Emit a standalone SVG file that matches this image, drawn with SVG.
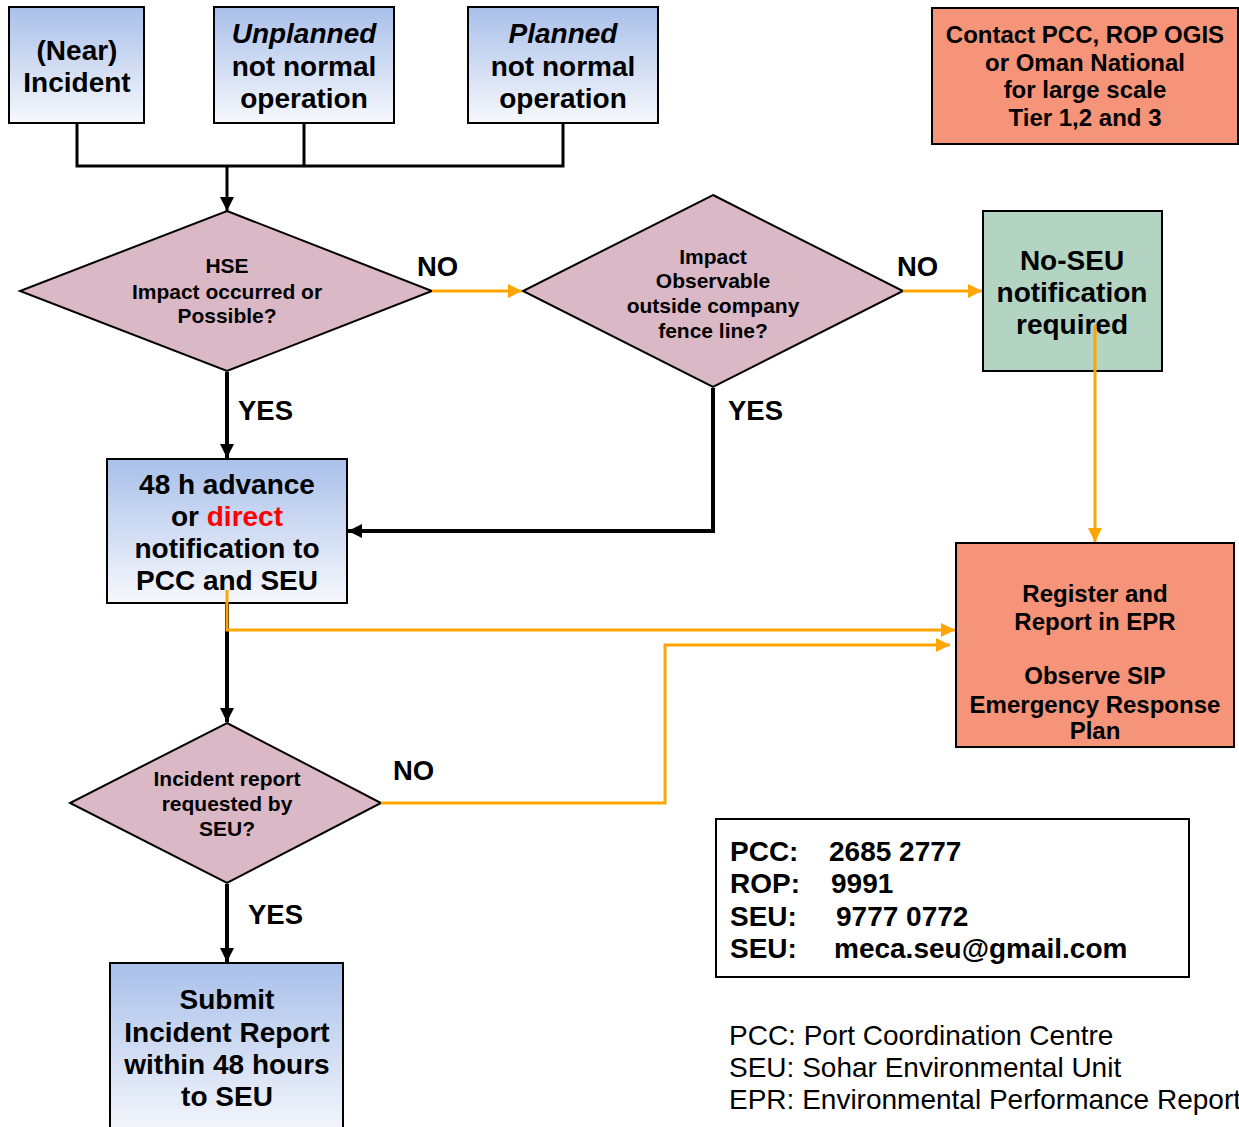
<svg xmlns="http://www.w3.org/2000/svg" width="1239" height="1127" viewBox="0 0 1239 1127">
<defs>
<linearGradient id="blueGrad" x1="0" y1="0" x2="0" y2="1">
<stop offset="0" stop-color="#a9c0ea"/>
<stop offset="1" stop-color="#f7f8fc"/>
</linearGradient>
<marker id="arrBlack" markerUnits="userSpaceOnUse" markerWidth="16" markerHeight="16" refX="14" refY="8" orient="auto">
<path d="M0,1 L14,8 L0,15 Z" fill="#000"/>
</marker>
<marker id="arrOrange" markerUnits="userSpaceOnUse" markerWidth="16" markerHeight="16" refX="14" refY="8" orient="auto">
<path d="M0,1 L14,8 L0,15 Z" fill="#ffa500"/>
</marker>
</defs>
<style>
text{font-family:"Liberation Sans",Arial,sans-serif;font-weight:bold;fill:#000}
.c{text-anchor:middle}
.bluebox{fill:url(#blueGrad);stroke:#000;stroke-width:2}
.diamond{fill:#dbb8c6;stroke:#000;stroke-width:2}
.salmon{fill:#f59478;stroke:#000;stroke-width:2}
.green{fill:#b3d4c2;stroke:#000;stroke-width:2}
.t28{font-size:28px}
.lbl{font-size:27.5px}
.t24{font-size:24px}
.t21{font-size:21px}
.blk{fill:none;stroke:#000;stroke-width:3}
.blk4{fill:none;stroke:#000;stroke-width:4}
.org{fill:none;stroke:#ffa500;stroke-width:3}
.norm{font-weight:normal}
</style>

<g id="near-incident">
<rect class="bluebox" x="9" y="7" width="135" height="116"/>
<text class="t28 c" x="77" y="60">(Near)</text>
<text class="t28 c" x="77" y="92">Incident</text>
</g>

<g id="unplanned">
<rect class="bluebox" x="214" y="7" width="180" height="116"/>
<text class="t28 c" x="304" y="43" font-style="italic">Unplanned</text>
<text class="t28 c" x="304" y="76">not normal</text>
<text class="t28 c" x="304" y="108">operation</text>
</g>

<g id="planned">
<rect class="bluebox" x="468" y="7" width="190" height="116"/>
<text class="t28 c" x="563" y="43" font-style="italic">Planned</text>
<text class="t28 c" x="563" y="76">not normal</text>
<text class="t28 c" x="563" y="108">operation</text>
</g>

<g id="contact">
<rect class="salmon" x="932" y="8" width="306" height="136"/>
<text class="t24 c" x="1085" y="43">Contact PCC, ROP OGIS</text>
<text class="t24 c" x="1085" y="71">or Oman National</text>
<text class="t24 c" x="1085" y="98">for large scale</text>
<text class="t24 c" x="1085" y="126">Tier 1,2 and 3</text>
</g>

<g id="hse-decision">
<polygon class="diamond" points="227,211 432,291 227,371 20,291"/>
<text class="t21 c" x="227" y="273">HSE</text>
<text class="t21 c" x="227" y="299">Impact occurred or</text>
<text class="t21 c" x="227" y="323">Possible?</text>
</g>

<g id="observable-decision">
<polygon class="diamond" points="713,195 903,291 713,387 523,291"/>
<text class="t21 c" x="713" y="264">Impact</text>
<text class="t21 c" x="713" y="288">Observable</text>
<text class="t21 c" x="713" y="313">outside company</text>
<text class="t21 c" x="713" y="338">fence line?</text>
</g>

<g id="no-seu">
<rect class="green" x="983" y="211" width="179" height="160"/>
<text class="t28 c" x="1072" y="270">No-SEU</text>
<text class="t28 c" x="1072" y="302">notification</text>
<text class="t28 c" x="1072" y="334">required</text>
</g>

<g id="notification">
<rect class="bluebox" x="107" y="459" width="240" height="144"/>
<text class="t28 c" x="227" y="494">48 h advance</text>
<text class="t28 c" x="227" y="526">or <tspan fill="#ff0000">direct</tspan></text>
<text class="t28 c" x="227" y="558">notification to</text>
<text class="t28 c" x="227" y="590">PCC and SEU</text>
</g>

<g id="register">
<rect class="salmon" x="956" y="543" width="278" height="204"/>
<text class="t24 c" x="1095" y="602">Register and</text>
<text class="t24 c" x="1095" y="630">Report in EPR</text>
<text class="t24 c" x="1095" y="684">Observe SIP</text>
<text class="t24 c" x="1095" y="713">Emergency Response</text>
<text class="t24 c" x="1095" y="739">Plan</text>
</g>

<g id="report-decision">
<polygon class="diamond" points="227,723 381,803 227,883 70,803"/>
<text class="t21 c" x="227" y="786">Incident report</text>
<text class="t21 c" x="227" y="811">requested by</text>
<text class="t21 c" x="227" y="836">SEU?</text>
</g>

<g id="submit">
<rect class="bluebox" x="110" y="963" width="233" height="175"/>
<text class="t28 c" x="227" y="1009">Submit</text>
<text class="t28 c" x="227" y="1042">Incident Report</text>
<text class="t28 c" x="227" y="1074">within 48 hours</text>
<text class="t28 c" x="227" y="1106">to SEU</text>
</g>

<g id="contacts-info">
<rect x="716" y="819" width="473" height="158" fill="#fff" stroke="#000" stroke-width="2"/>
<text class="t28" x="730" y="861">PCC:</text><text class="t28" x="829" y="861">2685 2777</text>
<text class="t28" x="730" y="893">ROP:</text><text class="t28" x="831" y="893">9991</text>
<text class="t28" x="730" y="926">SEU:</text><text class="t28" x="836" y="926">9777 0772</text>
<text class="t28" x="730" y="958">SEU:</text><text class="t28" x="834" y="958">meca.seu@gmail.com</text>
</g>

<g id="legend">
<text class="t28 norm" x="729" y="1045">PCC: Port Coordination Centre</text>
<text class="t28 norm" x="729" y="1077">SEU: Sohar Environmental Unit</text>
<text class="t28 norm" x="729" y="1109">EPR: Environmental Performance Report</text>
</g>

<g id="connectors">
<polyline class="blk" points="77,123 77,166 563,166 563,123"/>
<line class="blk" x1="304" y1="123" x2="304" y2="166"/>
<line class="blk" x1="227" y1="166" x2="227" y2="211" marker-end="url(#arrBlack)"/>
<line class="org" x1="432" y1="291" x2="522" y2="291" marker-end="url(#arrOrange)"/>
<line class="org" x1="903" y1="291" x2="982" y2="291" marker-end="url(#arrOrange)"/>
<line class="blk4" x1="227" y1="372" x2="227" y2="458" marker-end="url(#arrBlack)"/>
<polyline class="blk4" points="713,388 713,531 348,531" marker-end="url(#arrBlack)"/>
<line class="org" x1="1095" y1="325" x2="1095" y2="542" marker-end="url(#arrOrange)"/>
<line class="blk4" x1="227" y1="604" x2="227" y2="722" marker-end="url(#arrBlack)"/>
<polyline class="org" points="227,590 227,630 955,630" marker-end="url(#arrOrange)"/>
<polyline class="org" points="381,803 665,803 665,645 950,645" marker-end="url(#arrOrange)"/>
<line class="blk4" x1="227" y1="884" x2="227" y2="962" marker-end="url(#arrBlack)"/>
<text class="lbl" x="417" y="276">NO</text>
<text class="lbl" x="897" y="276">NO</text>
<text class="lbl" x="238" y="420">YES</text>
<text class="lbl" x="728" y="420">YES</text>
<text class="lbl" x="393" y="780">NO</text>
<text class="lbl" x="248" y="924">YES</text>
</g>
</svg>
